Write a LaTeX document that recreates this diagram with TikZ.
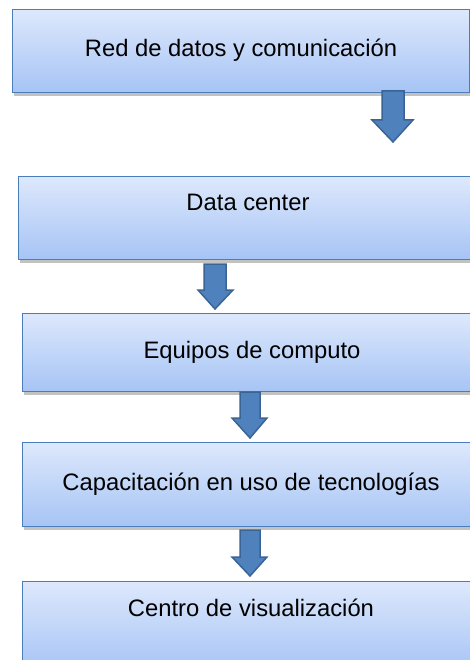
\documentclass[tikz,border=0pt]{standalone}
\usepackage{fontspec}
\setmainfont{Liberation Sans}
\usetikzlibrary{shadows,calc}
\definecolor{boxtop}{HTML}{DDE8FC}
\definecolor{boxbot}{HTML}{A6C4F5}
\definecolor{boxline}{HTML}{4A7EBB}
\definecolor{arrfill}{HTML}{4F81BD}
\definecolor{arrline}{HTML}{3A6396}
\tikzset{
  stagebox/.style={draw=boxline, line width=1.3pt, top color=boxtop, bottom color=boxbot,
    drop shadow={shadow xshift=1.5pt, shadow yshift=-3pt, opacity=0.4, fill=black!60},
    inner sep=0pt, anchor=north west},
  stagetext/.style={font=\fontsize{23.8}{28}\selectfont, text=black, inner sep=0pt},
  blockarrow/.style={fill=arrfill, draw=arrline, line width=1.5pt, line join=miter}
}
\begin{document}
\begin{tikzpicture}[x=1pt,y=-1pt]
\useasboundingbox (0,0) rectangle (470,660);
\clip (0,0) rectangle (470,660);
% boxes
\node[stagebox, minimum width=457pt, minimum height=83pt] (b1) at (12,9) {};
\node[stagebox, minimum width=460pt, minimum height=83pt] (b2) at (18,176) {};
\node[stagebox, minimum width=460pt, minimum height=78pt] (b3) at (22,313) {};
\node[stagebox, minimum width=458pt, minimum height=84pt] (b4) at (22,442) {};
\node[stagebox, minimum width=458pt, minimum height=90pt] (b5) at (22,581) {};
% texts
\node[stagetext] (t1) at (241,50) {Red de datos y comunicación};
\node[stagetext] (t2) at (248,202) {Data center};
\node[stagetext] (t3) at (252,352) {Equipos de computo};
\node[stagetext] (t4) at (251,484) {Capacitación en uso de tecnologías};
\node[stagetext] (t5) at (251,608) {Centro de visualización};
% block arrows
\draw[blockarrow] (382,91) -- (404,91) -- (404,120) -- (413,120) -- (393,142) -- (372,120) -- (382,120) -- cycle;
\draw[blockarrow] (204,264) -- (226,264) -- (226,290) -- (233,290) -- (215,309) -- (198,290) -- (204,290) -- cycle;
\draw[blockarrow] (240,392) -- (260,392) -- (260,418) -- (267,418) -- (250,438) -- (232,418) -- (240,418) -- cycle;
\draw[blockarrow] (240,530) -- (260,530) -- (260,557) -- (267,557) -- (250,576) -- (232,557) -- (240,557) -- cycle;
\end{tikzpicture}
\end{document}
